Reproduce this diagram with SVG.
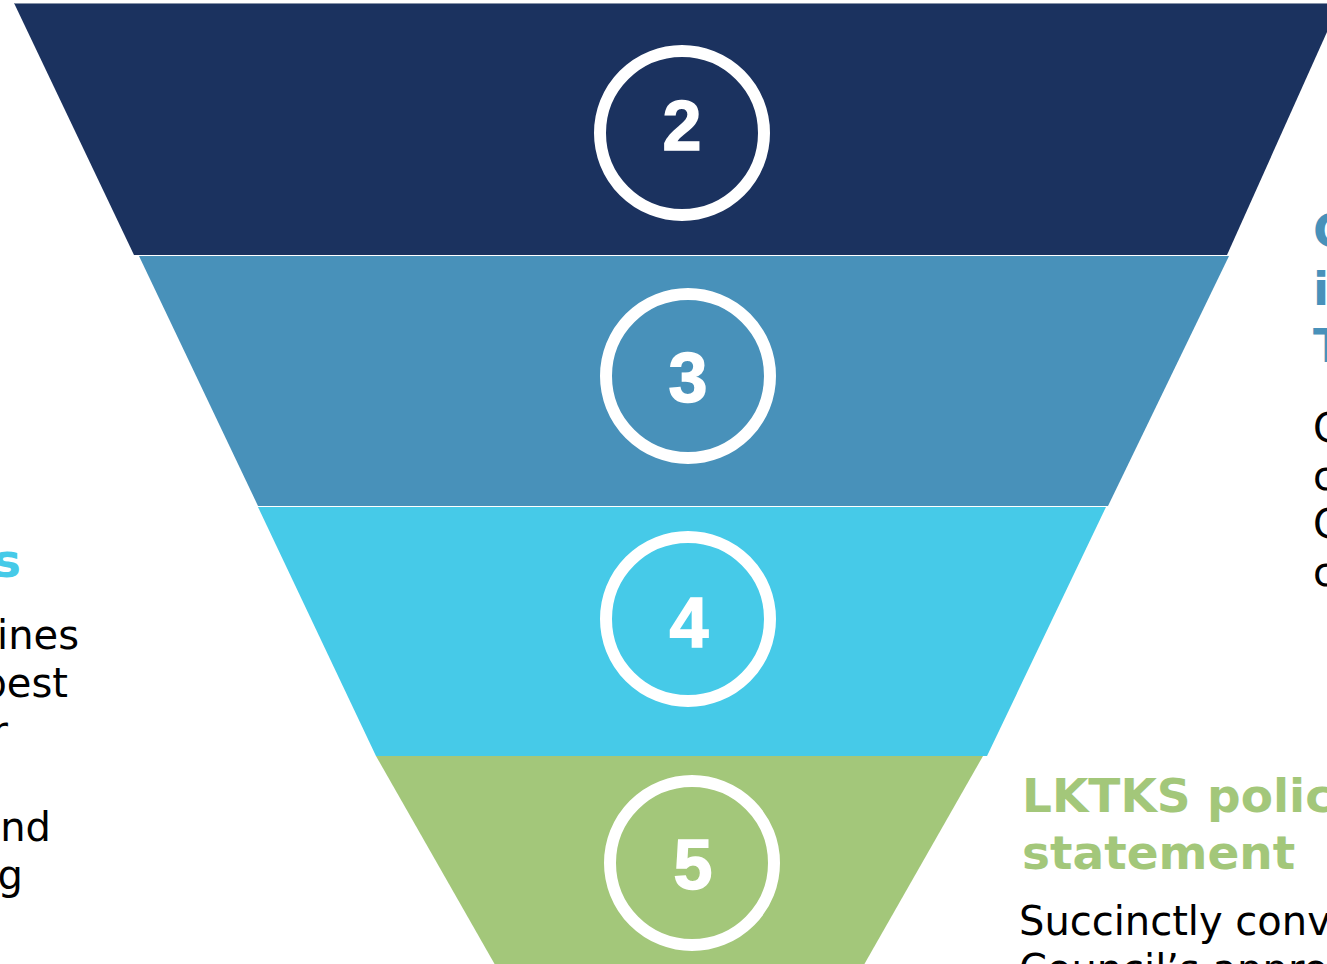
<svg xmlns="http://www.w3.org/2000/svg" width="1327" height="964" viewBox="0 0 1327 964">
<style>
.ring{fill:none;stroke:#ffffff;stroke-width:12}
.num{font-family:"Liberation Sans",Arial,sans-serif;font-weight:bold;font-size:70px;fill:#ffffff;stroke:#ffffff;stroke-width:1.5;text-anchor:middle}
.body{font-family:"DejaVu Sans",Verdana,sans-serif;font-size:40px;fill:#000000}
.head{font-family:"DejaVu Sans",Verdana,sans-serif;font-weight:bold;font-size:47px}
.end{text-anchor:end}
</style>
<rect width="1327" height="964" fill="#ffffff"/>
<g id="band2">
<polygon points="14,3 1340,3 1227,255 134,255" fill="#1B325F"/>
<line x1="14" y1="3.5" x2="1327" y2="3.5" stroke="#8592a8" stroke-width="1"/>
<circle class="ring" cx="682" cy="133" r="82"/>
<text class="num" x="682" y="150">2</text>
</g>
<g id="band3">
<polygon points="139,256 1229,256 1108,506 258,506" fill="#4891BA"/>
<circle class="ring" cx="688" cy="376" r="82"/>
<text class="num" x="688" y="402">3</text>
</g>
<g id="band4">
<polygon points="258,507 1106,507 987,756 376,756" fill="#46CAE8"/>
<circle class="ring" cx="688" cy="619" r="82"/>
<text class="num" x="689" y="647">4</text>
</g>
<g id="band5">
<polygon points="376,756 983,756 861,970 498,970" fill="#A3C77A"/>
<circle class="ring" cx="692" cy="863" r="82"/>
<text class="num" x="693" y="889">5</text>
</g>
<g id="left-text">
<text class="head end" x="21" y="577" fill="#46CAE8">s</text>
<text class="body end" x="79" y="649">ines</text>
<text class="body end" x="68" y="697">best</text>
<text class="body end" x="8" y="745">r</text>
<text class="body end" x="51" y="841">nd</text>
<text class="body end" x="23" y="889">g</text>
</g>
<g id="right-text">
<text class="head" fill="#4891BA"><tspan x="1313" y="247">C</tspan><tspan x="1313" y="305">i</tspan><tspan x="1313" y="362">T</tspan></text>
<text class="body"><tspan x="1313" y="442">C</tspan><tspan x="1313" y="490">c</tspan><tspan x="1313" y="538">C</tspan><tspan x="1313" y="586">c</tspan></text>
</g>
<g id="bottom-right-text">
<text class="head" fill="#A3C77A"><tspan x="1022" y="812">LKTKS polic</tspan><tspan x="1022" y="869">statement</tspan></text>
<text class="body"><tspan x="1019" y="935">Succinctly conv</tspan><tspan x="1019" y="983">Council’s appro</tspan></text>
</g>
</svg>
